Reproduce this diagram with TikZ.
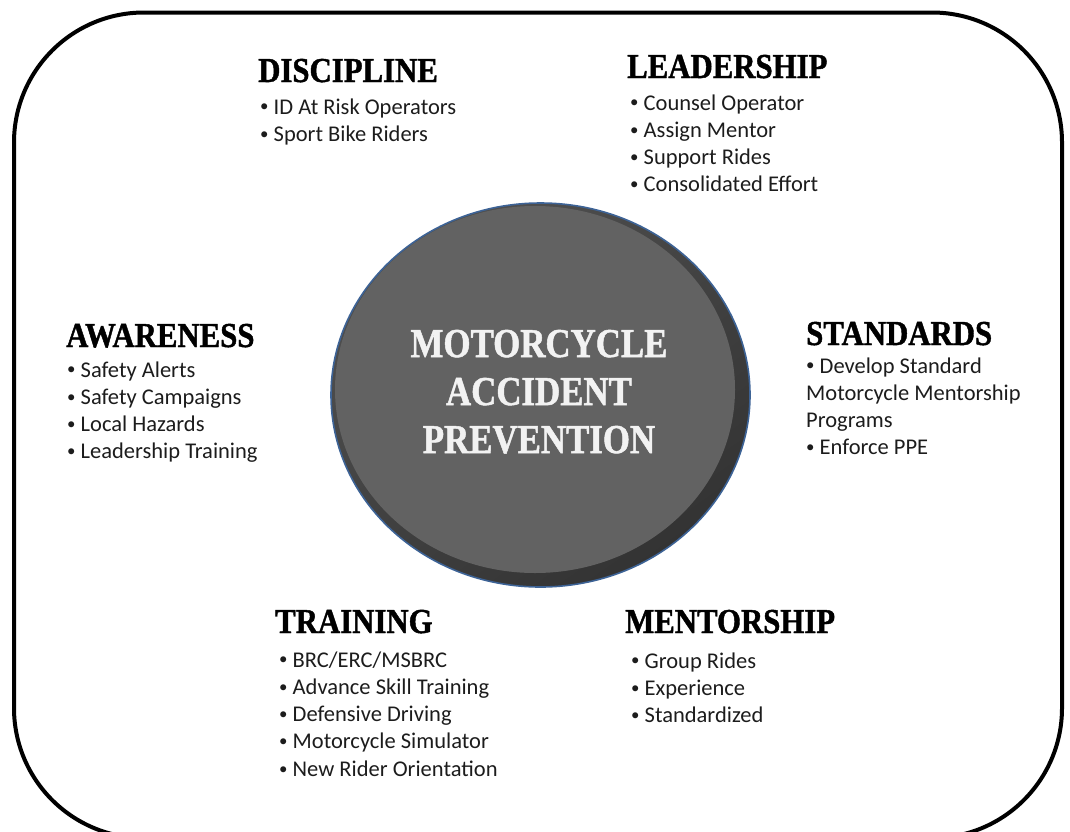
\documentclass[tikz,border=0pt]{standalone}
\usepackage{fontspec}
\usepackage{graphicx}
\usepackage{tikz}
\usetikzlibrary{positioning}
\setmainfont{Carlito}
\newfontfamily\headfont[FakeStretch=0.88,FakeBold=1.2]{Liberation Serif}
\newfontfamily\hubfont[FakeStretch=0.85,FakeBold=1.2]{Liberation Serif}

\definecolor{hubgray}{HTML}{626262}
\definecolor{rimlight}{HTML}{505050}
\definecolor{rimdark}{HTML}{333333}
\definecolor{rimblue}{HTML}{3D6396}
\definecolor{entrytext}{HTML}{1C1C1C}
\definecolor{hubtext}{HTML}{F2F2F2}

% small raised bullet
\newcommand\bulletmark{\raisebox{0.2ex}{\scalebox{0.75}{\textbullet}}\ }

\tikzset{
  head/.style={anchor=base west, inner sep=0pt,
    font=\headfont\bfseries\fontsize{35}{35}\selectfont},
  entry/.style={anchor=base west, inner sep=0pt, text=entrytext,
    font=\fontsize{22.5}{27}\selectfont},
  hubline/.style={anchor=base, inner sep=0pt, text=hubtext,
    font=\hubfont\bfseries\fontsize{41}{41}\selectfont}
}

\begin{document}
\begin{tikzpicture}[x=1pt,y=-1pt]
\useasboundingbox (0,0) rectangle (1070,831);

% frame
\draw[line width=4, rounded corners=130] (14,12.5) rectangle (1062,838);

% hub
\shade[top color=rimlight, bottom color=rimdark, shading angle=35]
  (540.5,395) ellipse [x radius=209.5, y radius=192];
\draw[rimblue, line width=1.6]
  (540.5,395) ellipse [x radius=209.5, y radius=192];
\fill[hubgray] (535,389.5) ellipse [x radius=200, y radius=183.5];

\foreach \t [count=\i] in {MOTORCYCLE,ACCIDENT,PREVENTION}
  \node[hubline] (hub-\i) at (539,309+48*\i) {\t};

% headings
\node[head] (disc) at (258,82) {DISCIPLINE};
\node[head] (lead) at (627,78) {LEADERSHIP};
\node[head] (awar) at (66,347) {AWARENESS};
\node[head] (stan) at (806,345) {STANDARDS};
\node[head] (trai) at (275,633) {TRAINING};
\node[head] (ment) at (625,633) {MENTORSHIP};

% lists
\foreach \t [count=\i] in {ID At Risk Operators,Sport Bike Riders}
  \node[entry] (disc-\i) at (260,86.7+27.3*\i) {\bulletmark\t};
\foreach \t [count=\i] in {Counsel Operator,Assign Mentor,Support Rides,Consolidated Effort}
  \node[entry] (lead-\i) at (630,82.7+27.3*\i) {\bulletmark\t};
\foreach \t [count=\i] in {Safety Alerts,Safety Campaigns,Local Hazards,Leadership Training}
  \node[entry] (awar-\i) at (67,349.7+27.3*\i) {\bulletmark\t};
\foreach \t [count=\i] in {\bulletmark Develop Standard,Motorcycle Mentorship,Programs,\bulletmark Enforce PPE}
  \node[entry] (stan-\i) at (806,345.7+27.3*\i) {\t};
\foreach \t [count=\i] in {BRC/ERC/MSBRC,Advance Skill Training,Defensive Driving,Motorcycle Simulator,New Rider Orientation}
  \node[entry] (trai-\i) at (279,639.7+27.3*\i) {\bulletmark\t};
\foreach \t [count=\i] in {Group Rides,Experience,Standardized}
  \node[entry] (ment-\i) at (631,640.7+27.3*\i) {\bulletmark\t};

\end{tikzpicture}
\end{document}
